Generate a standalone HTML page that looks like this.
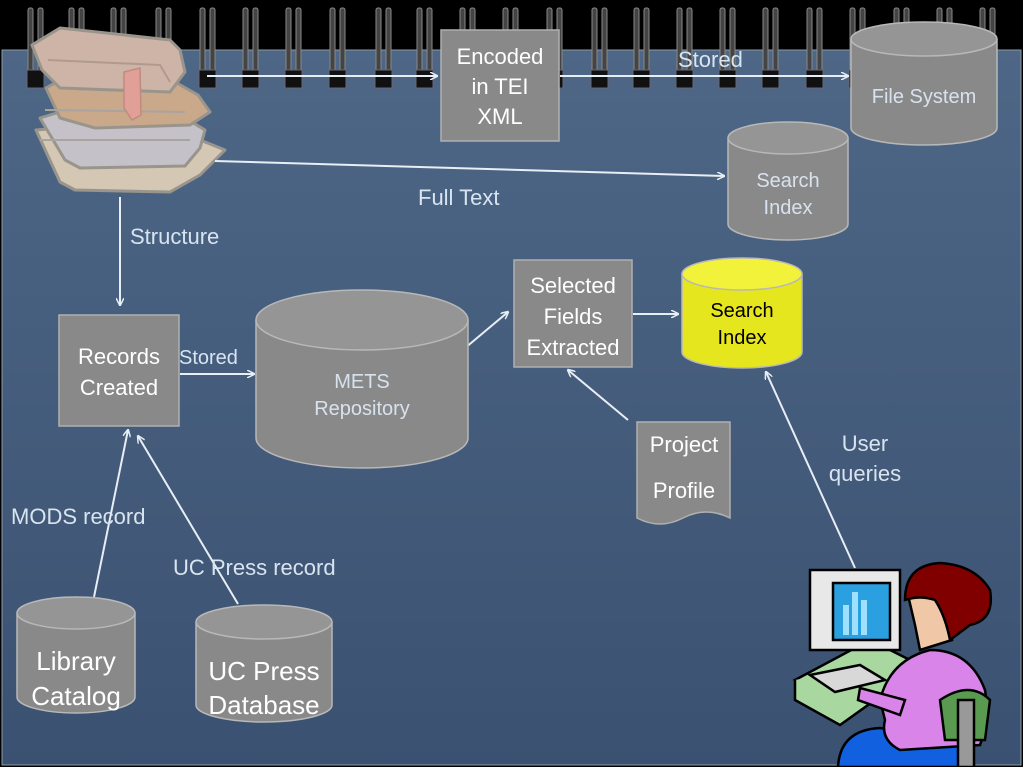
<!DOCTYPE html>
<html><head><style>
html,body{margin:0;padding:0;background:#000;}
svg{display:block;font-family:"Liberation Sans",sans-serif;}
</style></head><body>
<svg width="1023" height="767" viewBox="0 0 1023 767" xmlns="http://www.w3.org/2000/svg">
<defs>
<marker id="a" markerWidth="8" markerHeight="8" refX="7" refY="4" orient="auto" markerUnits="userSpaceOnUse"><path d="M0,0 L8,4 L0,8" fill="none" stroke="#e8eef5" stroke-width="1.5"/></marker>
<linearGradient id="bg" x1="0" y1="0" x2="0" y2="1"><stop offset="0" stop-color="#4e6786"/><stop offset="1" stop-color="#3b5171"/></linearGradient>
<g id="ring"><rect x="0" y="8" width="5" height="72" rx="2" fill="#444" stroke="#888"/><rect x="10" y="8" width="5" height="72" rx="2" fill="#444" stroke="#888"/><rect x="-1" y="70" width="17" height="18" fill="#111" stroke="#667" stroke-width="1"/></g>
</defs>
<rect width="1023" height="767" fill="#000"/>
<rect x="2" y="50" width="1019" height="715" fill="url(#bg)" stroke="#8a9aaa" stroke-width="1"/>
<use href="#ring" x="28"/><use href="#ring" x="69"/><use href="#ring" x="111"/><use href="#ring" x="156"/><use href="#ring" x="200"/><use href="#ring" x="243"/><use href="#ring" x="286"/><use href="#ring" x="330"/><use href="#ring" x="376"/><use href="#ring" x="417"/><use href="#ring" x="460"/><use href="#ring" x="503"/><use href="#ring" x="547"/><use href="#ring" x="592"/><use href="#ring" x="634"/><use href="#ring" x="677"/><use href="#ring" x="720"/><use href="#ring" x="763"/><use href="#ring" x="807"/><use href="#ring" x="850"/><use href="#ring" x="894"/><use href="#ring" x="937"/><use href="#ring" x="980"/>

<!-- books -->
<g stroke="#9a958c" stroke-width="3" stroke-linejoin="round">
<path d="M36,130 L60,182 L75,190 L170,192 L200,175 L225,150 L195,138 L60,128 Z" fill="#d4c8b4"/>
<path d="M40,118 L65,160 L80,168 L185,166 L200,148 L205,130 L185,118 L60,112 Z" fill="#c4c2c8"/>
<path d="M46,88 L60,118 L95,128 L190,125 L210,112 L198,95 L175,82 L60,80 Z" fill="#caa88a"/>
<path d="M32,45 L42,70 L60,88 L170,92 L185,72 L180,50 L170,40 L60,28 Z" fill="#cdb4a6"/>
<path d="M48,60 L160,65 L170,82" fill="none" stroke="#b09a8e" stroke-width="2"/>
<path d="M40,140 L190,140 M45,110 L185,112" fill="none" stroke="#a8a4a0" stroke-width="2"/>
<path d="M124,72 L140,68 L141,115 L132,120 L124,108 Z" fill="#e0a098" stroke="#c08a80" stroke-width="1.5"/>
</g>

<!-- lines/arrows -->
<g stroke="#e8eef5" stroke-width="2" fill="none">
<line x1="207" y1="76" x2="437" y2="76" marker-end="url(#a)"/>
<line x1="560" y1="76" x2="848" y2="76" marker-end="url(#a)"/>
<line x1="215" y1="161" x2="724" y2="176" marker-end="url(#a)"/>
<line x1="120" y1="197" x2="120" y2="305" marker-end="url(#a)"/>
<line x1="180" y1="374" x2="254" y2="374" marker-end="url(#a)"/>
<line x1="415" y1="390" x2="508" y2="312" marker-end="url(#a)"/>
<line x1="633" y1="314" x2="678" y2="314" marker-end="url(#a)"/>
<line x1="628" y1="420" x2="568" y2="370" marker-end="url(#a)"/>
<line x1="855" y1="568" x2="766" y2="372" marker-end="url(#a)"/>
<line x1="94" y1="597" x2="128" y2="430" marker-end="url(#a)"/>
<line x1="238" y1="604" x2="138" y2="436" marker-end="url(#a)"/>
</g>

<!-- boxes -->
<g fill="#898989" stroke="#b0b0b0" stroke-width="1.5">
<rect x="441" y="30" width="118" height="111"/>
<rect x="514" y="260" width="118" height="107"/>
<rect x="59" y="315" width="120" height="111"/>
<path d="M637,422 H730 V518 Q706,506 683,518 Q660,530 637,518 Z"/>
</g>

<!-- cylinders -->
<g stroke="#b8b8b8" stroke-width="1.5">
<path d="M851,39 V128 A73,17 0 0 0 997,128 V39" fill="#898989"/><ellipse cx="924" cy="39" rx="73" ry="17" fill="#959595"/>
<path d="M728,138 V224 A60,16 0 0 0 848,224 V138" fill="#898989"/><ellipse cx="788" cy="138" rx="60" ry="16" fill="#959595"/>
<path d="M682,274 V352 A60,16 0 0 0 802,352 V274" fill="#e6e61e"/><ellipse cx="742" cy="274" rx="60" ry="16" fill="#f2f23a"/>
<path d="M256,320 V438 A106,30 0 0 0 468,438 V320" fill="#898989"/><ellipse cx="362" cy="320" rx="106" ry="30" fill="#959595"/>
<path d="M17,613 V697 A59,16 0 0 0 135,697 V613" fill="#898989"/><ellipse cx="76" cy="613" rx="59" ry="16" fill="#959595"/>
<path d="M196,622 V705 A68,17 0 0 0 332,705 V622" fill="#898989"/><ellipse cx="264" cy="622" rx="68" ry="17" fill="#959595"/>
</g>

<!-- person -->
<g stroke="#000" stroke-width="2.5">
<path d="M795,680 L870,640 L910,660 L840,710 Z" fill="#a8d8a0"/>
<path d="M795,680 V700 L840,725 L910,675 V660" fill="#a8d8a0"/>
<rect x="810" y="570" width="90" height="80" fill="#e8e8e8"/>
<rect x="833" y="583" width="57" height="57" fill="#2aa0e0"/>
<rect x="843" y="605" width="6" height="30" fill="#a0e0ff" stroke="none"/><rect x="852" y="592" width="6" height="43" fill="#a0e0ff" stroke="none"/><rect x="861" y="600" width="6" height="35" fill="#a0e0ff" stroke="none"/>
<path d="M810,675 L860,665 L885,680 L835,692 Z" fill="#d8d8d8"/>
<path d="M838,767 Q840,730 880,728 L960,740 L960,767 Z" fill="#1060e0"/>
<path d="M880,700 Q890,660 930,650 Q970,650 985,690 Q990,720 980,745 L900,750 Q880,740 885,720 Z" fill="#d884e8"/>
<path d="M860,688 L905,700 L900,715 L858,700 Z" fill="#d884e8"/>
<path d="M940,700 Q970,680 990,700 L985,740 L945,740 Z" fill="#5a9a50"/>
<rect x="958" y="700" width="16" height="67" fill="#999"/>
<path d="M908,595 Q915,570 940,575 L952,640 L920,650 L915,625 Z" fill="#f0c8a8"/>
<path d="M905,600 Q905,565 940,563 Q975,565 990,590 Q995,620 970,625 L950,640 Q945,615 935,600 Q920,595 905,600 Z" fill="#800000"/>
</g>

<!-- text -->
<g fill="#fff" font-size="22" text-anchor="middle">
<text x="500" y="64">Encoded</text><text x="500" y="94">in TEI</text><text x="500" y="124">XML</text>
<text x="573" y="293">Selected</text><text x="573" y="324">Fields</text><text x="573" y="355">Extracted</text>
<text x="119" y="364">Records</text><text x="119" y="395">Created</text>
<text x="684" y="452">Project</text><text x="684" y="498">Profile</text>
<text x="76" y="670" font-size="26">Library</text><text x="76" y="705" font-size="26">Catalog</text>
<text x="264" y="680" font-size="26">UC Press</text><text x="264" y="714" font-size="26">Database</text>
</g>
<g fill="#d8e2ee" font-size="20" text-anchor="middle">
<text x="924" y="103">File System</text>
<text x="788" y="187">Search</text><text x="788" y="214">Index</text>
<text x="362" y="388">METS</text><text x="362" y="415">Repository</text>
</g>
<g fill="#000" font-size="20" text-anchor="middle">
<text x="742" y="317">Search</text><text x="742" y="344">Index</text>
</g>
<g fill="#d8e4f0" font-size="22">
<text x="678" y="67">Stored</text>
<text x="418" y="205">Full Text</text>
<text x="130" y="244">Structure</text>
<text x="179" y="364" font-size="20">Stored</text>
<text x="11" y="524">MODS record</text>
<text x="173" y="575">UC Press record</text>
<text x="865" y="451" text-anchor="middle">User</text>
<text x="865" y="481" text-anchor="middle">queries</text>
</g>
</svg>
</body></html>
